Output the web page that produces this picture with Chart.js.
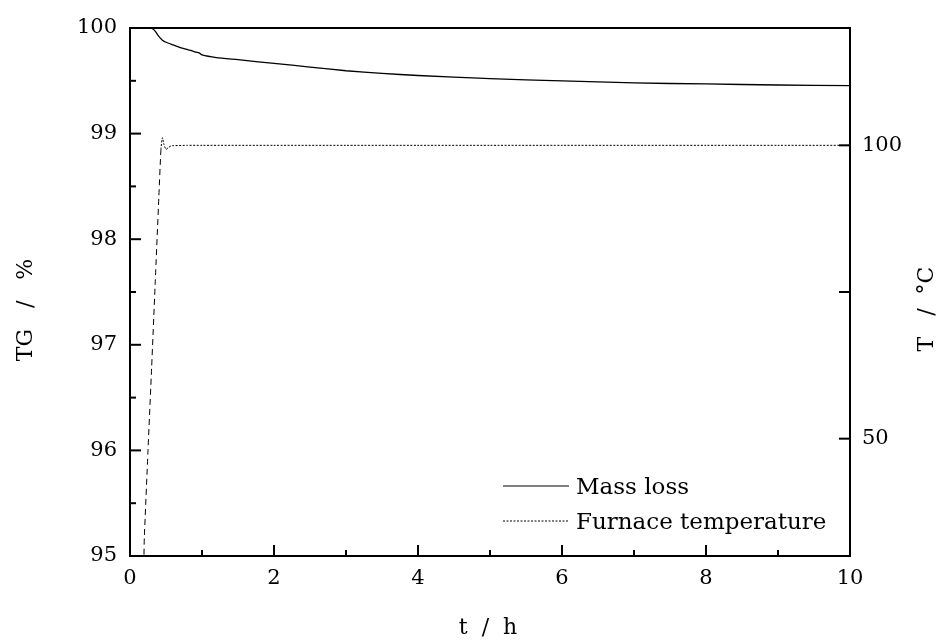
<!DOCTYPE html>
<html>
<head>
<meta charset="utf-8">
<script src="https://cdn.jsdelivr.net/npm/chart.js@4.4.1/dist/chart.umd.min.js"></script>
<style>
  html, body { margin: 0; padding: 0; background: #ffffff; }
  #wrap { width: 946px; height: 641px; }
</style>
</head>
<body>
<div id="wrap"><canvas id="c" width="946" height="641"></canvas></div>
<script>
// ---- data ----
const massTime   = [0, 0.1, 0.2, 0.28, 0.32, 0.36, 0.4, 0.45, 0.5, 0.6, 0.7, 0.8, 0.9, 0.96, 1.0, 1.2, 1.5, 2, 2.5, 3, 3.5, 4, 5, 6, 7, 8, 9, 10];
const massValues = [100, 100, 100, 100, 99.99, 99.96, 99.92, 99.885, 99.865, 99.84, 99.815, 99.795, 99.775, 99.765, 99.745, 99.72, 99.70, 99.665, 99.63, 99.595, 99.57, 99.55, 99.52, 99.50, 99.48, 99.47, 99.46, 99.455];

const tempTime   = [0, 0.16, 0.2, 0.25, 0.3, 0.35, 0.4, 0.43, 0.45, 0.47, 0.5, 0.53, 0.57, 0.6, 0.8, 1, 2, 3, 4, 5, 6, 7, 8, 9, 10];
const tempValues = [22, 22, 33.5, 48, 62, 76.5, 91, 99.3, 101.3, 100.2, 99.3, 99.6, 99.9, 99.95, 100, 100, 100, 100, 100, 100, 100, 100, 100, 100, 100];

const xMajorTicks = [0, 2, 4, 6, 8, 10];
const xMinorTicks = [1, 3, 5, 7, 9];
const yLeftTicks  = [95, 96, 97, 98, 99, 100];
const yLeftMinor  = [95.5, 96.5, 97.5, 98.5, 99.5];
const yRightTicks = [50, 100];
const yRightMinor = [75];

const seriesNames = ['Mass loss', 'Furnace temperature'];
const axisTitles = { x: 't\u00a0\u00a0/\u00a0\u00a0h', y: 'TG\u00a0\u00a0\u00a0/\u00a0\u00a0\u00a0%', y2: 'T\u00a0\u00a0\u00a0/\u00a0\u00a0°C' };

// ---- styles ----
const FONT = '"DejaVu Serif", "Liberation Serif", serif';
const tempDash = [2, 1.5];

const toPoints = (xs, ys) => xs.map((x, i) => ({ x: x, y: ys[i] }));

const framePlugin = {
  id: 'frame',
  afterDraw(chart) {
    const ctx = chart.ctx;
    const a = chart.chartArea;
    const sx = chart.scales.x, sy = chart.scales.y, sy2 = chart.scales.y2;
    ctx.save();
    ctx.strokeStyle = '#000';
    ctx.lineWidth = 2;
    ctx.setLineDash([]);
    // frame
    ctx.strokeRect(a.left, a.top, a.right - a.left, a.bottom - a.top);
    // inward ticks
    const tick = (x1, y1, x2, y2) => { ctx.beginPath(); ctx.moveTo(x1, y1); ctx.lineTo(x2, y2); ctx.stroke(); };
    xMajorTicks.forEach(v => { const p = sx.getPixelForValue(v); tick(p, a.bottom, p, a.bottom - 11); });
    xMinorTicks.forEach(v => { const p = sx.getPixelForValue(v); tick(p, a.bottom, p, a.bottom - 6); });
    yLeftTicks.forEach(v => { const p = sy.getPixelForValue(v); tick(a.left, p, a.left + 11, p); });
    yLeftMinor.forEach(v => { const p = sy.getPixelForValue(v); tick(a.left, p, a.left + 6, p); });
    yRightTicks.forEach(v => { const p = sy2.getPixelForValue(v); tick(a.right, p, a.right - 11, p); });
    yRightMinor.forEach(v => { const p = sy2.getPixelForValue(v); tick(a.right, p, a.right - 11, p); });

    // axis titles
    ctx.fillStyle = '#000';
    ctx.font = '22px ' + FONT;
    ctx.textAlign = 'center';
    ctx.textBaseline = 'middle';
    ctx.fillText(axisTitles.x, (a.left + a.right) / 2 - 2, 628);
    ctx.save(); ctx.translate(26, 310); ctx.rotate(-Math.PI / 2); ctx.fillText(axisTitles.y, 0, 0); ctx.restore();
    ctx.save(); ctx.translate(927, 309); ctx.rotate(-Math.PI / 2); ctx.fillText(axisTitles.y2, 0, 0); ctx.restore();

    // legend
    const ds = chart.data.datasets;
    ctx.font = '23px ' + FONT;
    ctx.textAlign = 'left';
    const rows = [486, 521];
    ds.forEach((d, i) => {
      ctx.lineWidth = 1;
      ctx.strokeStyle = d.borderColor;
      ctx.setLineDash(d.borderDash || []);
      tick(503, rows[i], 569, rows[i]);
      ctx.setLineDash([]);
      ctx.fillText(d.label, 576, rows[i] + 2);
    });
    ctx.restore();
  }
};

new Chart(document.getElementById('c'), {
  type: 'line',
  data: {
    datasets: [
      {
        label: seriesNames[0],
        data: toPoints(massTime, massValues),
        yAxisID: 'y',
        borderColor: '#000',
        borderWidth: 1.3,
        pointRadius: 0,
        tension: 0.2,
        fill: false
      },
      {
        label: seriesNames[1],
        data: toPoints(tempTime, tempValues),
        yAxisID: 'y2',
        borderColor: '#000',
        borderWidth: 1,
        borderDash: tempDash,
        pointRadius: 0,
        tension: 0.2,
        fill: false,
        segment: {
          borderDash: c => (c.p1.parsed.x <= 0.44 ? [6, 4] : undefined)
        }
      }
    ]
  },
  options: {
    responsive: false,
    animation: false,
    events: [],
    layout: { padding: { top: 28, left: 0, right: 0, bottom: 0 } },
    plugins: { legend: { display: false }, tooltip: { enabled: false }, title: { display: false } },
    scales: {
      x: {
        type: 'linear', min: 0, max: 10,
        grid: { display: false, drawTicks: false },
        border: { display: true, width: 2, color: '#000' },
        afterBuildTicks: s => { s.ticks = xMajorTicks.map(v => ({ value: v })); },
        afterFit: s => { s.height = 85; },
        ticks: { font: { family: FONT, size: 21 }, color: '#000', padding: 10, maxRotation: 0, autoSkip: false }
      },
      y: {
        type: 'linear', position: 'left', min: 95, max: 100,
        grid: { display: false, drawTicks: false },
        border: { display: true, width: 2, color: '#000' },
        afterBuildTicks: s => { s.ticks = yLeftTicks.map(v => ({ value: v })); },
        afterFit: s => { s.width = 130; },
        ticks: { font: { family: FONT, size: 21 }, color: '#000', padding: 13, autoSkip: false }
      },
      y2: {
        type: 'linear', position: 'right', min: 30, max: 120,
        grid: { display: false, drawTicks: false },
        border: { display: true, width: 2, color: '#000' },
        afterBuildTicks: s => { s.ticks = yRightTicks.map(v => ({ value: v })); },
        afterFit: s => { s.width = 96; },
        ticks: { font: { family: FONT, size: 21 }, color: '#000', padding: 12, autoSkip: false }
      }
    }
  },
  plugins: [framePlugin]
});
</script>
</body>
</html>
